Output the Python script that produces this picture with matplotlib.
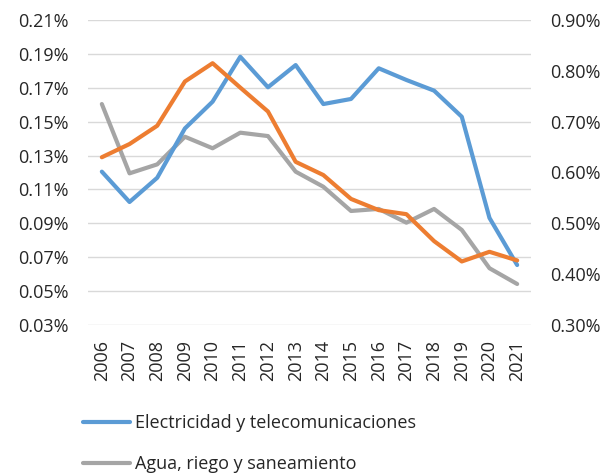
import matplotlib
matplotlib.use("Agg")
import matplotlib.pyplot as plt
from matplotlib.ticker import FuncFormatter
from matplotlib.lines import Line2D

plt.rcParams["font.family"] = ["Open Sans", "DejaVu Sans"]

years = [str(y) for y in range(2006, 2022)]

# left axis (% of GDP)
electricidad = [0.1205, 0.1026, 0.1169, 0.1460, 0.1618, 0.1883, 0.1703, 0.1834,
                0.1604, 0.1634, 0.1815, 0.1746, 0.1683, 0.1529, 0.0932, 0.0654]
agua = [0.1604, 0.1195, 0.1248, 0.1411, 0.1343, 0.1435, 0.1415, 0.1205,
        0.1116, 0.0973, 0.0985, 0.0904, 0.0985, 0.0861, 0.0635, 0.0542]
# right axis
orange_series = [0.630, 0.656, 0.692, 0.779, 0.815, 0.767, 0.720, 0.621,
                 0.595, 0.548, 0.526, 0.518, 0.465, 0.425, 0.444, 0.427]

left_ticks = [0.03, 0.05, 0.07, 0.09, 0.11, 0.13, 0.15, 0.17, 0.19, 0.21]
right_ticks = [0.30, 0.40, 0.50, 0.60, 0.70, 0.80, 0.90]

BLUE = "#5B9BD5"
ORANGE = "#ED7D31"
GRAY = "#A5A5A5"
TXT = "#262626"

fig = plt.figure(figsize=(6.08, 4.74), dpi=100)
ax = fig.add_axes([88 / 608, 1 - 325 / 474, 443 / 608, 305 / 474])
ax2 = ax.twinx()

x = range(len(years))
ax.plot(x, agua, color=GRAY, lw=3.0, solid_capstyle="round", zorder=3)
ax.plot(x, electricidad, color=BLUE, lw=3.0, solid_capstyle="round", zorder=4)
ax2.plot(x, orange_series, color=ORANGE, lw=3.0, solid_capstyle="round", zorder=3)

ax.set_xlim(-0.5, len(years) - 0.5)
ax.set_ylim(0.03, 0.21)
ax2.set_ylim(0.30, 0.90)
ax.set_yticks(left_ticks)
ax2.set_yticks(right_ticks)
ax.yaxis.set_major_formatter(FuncFormatter(lambda v, p: f"{v:.2f}%"))
ax2.yaxis.set_major_formatter(FuncFormatter(lambda v, p: f"{v:.2f}%"))
ax.set_xticks(list(x))
ax.set_xticklabels(years, rotation=90)

ax.grid(axis="y", color="#D9D9D9", lw=1.0)
ax.set_axisbelow(True)
for a in (ax, ax2):
    for s in a.spines.values():
        s.set_visible(False)
    a.tick_params(length=0, labelsize=13, colors=TXT)
ax.tick_params(axis="y", pad=14)
ax2.tick_params(axis="y", pad=14)
ax.tick_params(axis="x", pad=11)

handles = [Line2D([], [], color=BLUE, lw=3.0, solid_capstyle="round"),
           Line2D([], [], color=GRAY, lw=3.0, solid_capstyle="round")]
labels = ["Electricidad y telecomunicaciones", "Agua, riego y saneamiento"]
fig.legend(handles, labels, loc="upper left", bbox_to_anchor=(83 / 608, 1 - 414 / 474),
           frameon=False, fontsize=13, handlelength=2.6, handletextpad=0.3,
           labelspacing=1.3, borderpad=0, borderaxespad=0, labelcolor=TXT)

fig.savefig("out.png", dpi=100)
